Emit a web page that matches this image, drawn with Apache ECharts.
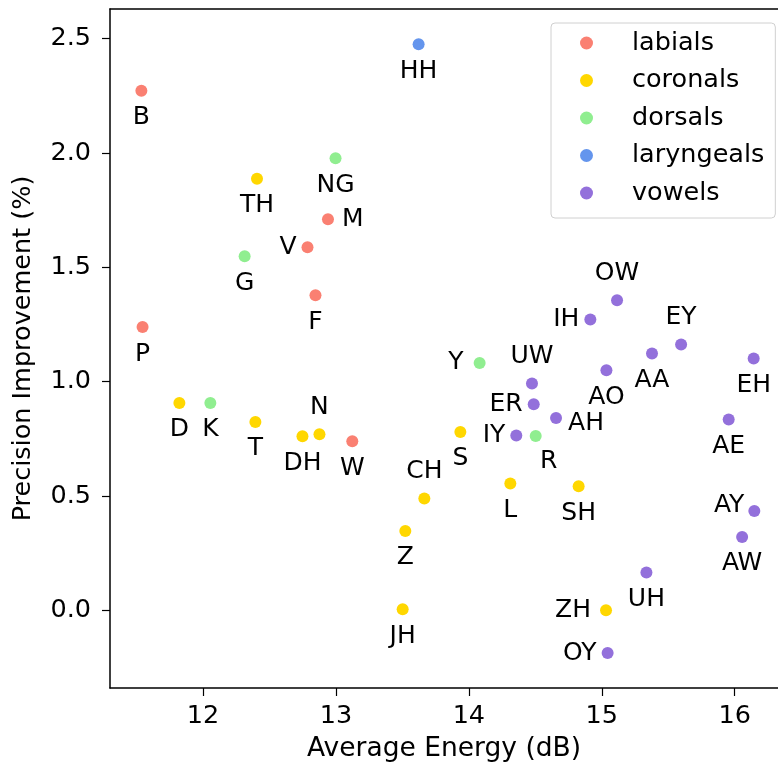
<!DOCTYPE html>
<html>
<head>
<meta charset="utf-8">
<style>html,body{margin:0;padding:0;background:#fff;}#main{width:778px;height:765px;}</style>
<script src="https://cdn.jsdelivr.net/npm/echarts@6/dist/echarts.min.js"></script>
</head>
<body>
<div id="main"></div>
<script>
// ---- data ----
const groups = ['labials', 'coronals', 'dorsals', 'laryngeals', 'vowels'];
const colors = ['#FA8072', '#FFD700', '#90EE90', '#6495ED', '#9370DB'];

const labialNames = ['B', 'P', 'M', 'V', 'F', 'W'];
const labialX = [11.536, 11.545, 12.94, 12.786, 12.846, 13.123];
const labialY = [2.272, 1.239, 1.710, 1.588, 1.378, 0.739];

const coronalNames = ['TH', 'D', 'T', 'N', 'DH', 'S', 'CH', 'L', 'SH', 'Z', 'JH', 'ZH'];
const coronalX = [12.406, 11.822, 12.394, 12.876, 12.748, 13.936, 13.665, 14.312, 14.826, 13.522, 13.502, 15.032];
const coronalY = [1.888, 0.907, 0.824, 0.770, 0.761, 0.780, 0.489, 0.554, 0.542, 0.347, 0.004, 0.000];

const dorsalNames = ['G', 'K', 'NG', 'Y', 'R'];
const dorsalX = [12.313, 12.055, 12.997, 14.081, 14.503];
const dorsalY = [1.549, 0.907, 1.977, 1.082, 0.762];

const laryngealNames = ['HH'];
const laryngealX = [13.622];
const laryngealY = [2.476];

const vowelNames = ['OW', 'IH', 'EY', 'AA', 'EH', 'AO', 'UW', 'ER', 'AH', 'AE', 'IY', 'AY', 'AW', 'UH', 'OY'];
const vowelX = [15.115, 14.914, 15.597, 15.378, 16.143, 15.035, 14.475, 14.488, 14.656, 15.955, 14.357, 16.148, 16.056, 15.336, 15.044];
const vowelY = [1.356, 1.272, 1.162, 1.123, 1.101, 1.050, 0.992, 0.901, 0.841, 0.834, 0.764, 0.434, 0.321, 0.165, -0.187];

const xTicks = [12, 13, 14, 15, 16];
const yTicks = [0.0, 0.5, 1.0, 1.5, 2.0, 2.5];

// ---- label placement (style) ----
const FONT = 'DejaVu Sans';
const labelPlace = {
  top: ['N', 'OW', 'EY', 'UW', 'CH'],
  left: ['V', 'IH', 'Y', 'ER', 'IY', 'ZH', 'OY', 'AY'],
  right: ['M', 'AH']
};
const special = {
  R: { align: 'center', offset: [13, 25] },
  AH: { align: 'left', offset: [12, 5] },
  AY: { align: 'right', offset: [-10, -6] },
  Y: { align: 'right', offset: [-16, 0] },
  ZH: { align: 'right', offset: [-15, 0] },
  M: { align: 'left', offset: [14, 0] }
};
function labelFor(name) {
  let cfg;
  if (special[name]) cfg = special[name];
  else if (labelPlace.top.includes(name)) cfg = { align: 'center', offset: [0, -27] };
  else if (labelPlace.left.includes(name)) cfg = { align: 'right', offset: [-11, 0] };
  else if (labelPlace.right.includes(name)) cfg = { align: 'left', offset: [13, 0] };
  else cfg = { align: 'center', offset: [0, 27] };
  return {
    show: true,
    position: 'inside',
    formatter: name,
    align: cfg.align,
    verticalAlign: 'middle',
    offset: cfg.offset,
    color: '#000',
    fontFamily: FONT,
    fontSize: 25
  };
}

const seriesData = [
  [labialNames, labialX, labialY],
  [coronalNames, coronalX, coronalY],
  [dorsalNames, dorsalX, dorsalY],
  [laryngealNames, laryngealX, laryngealY],
  [vowelNames, vowelX, vowelY]
];

const series = groups.map((g, i) => {
  const [names, xs, ys] = seriesData[i];
  return {
    name: g,
    type: 'scatter',
    xAxisIndex: 0,
    yAxisIndex: 0,
    symbol: 'circle',
    symbolSize: 12,
    itemStyle: { color: colors[i], opacity: 1 },
    emphasis: { disabled: true },
    data: names.map((n, k) => ({ name: n, value: [xs[k], ys[k]], label: labelFor(n) }))
  };
});

const chart = echarts.init(document.getElementById('main'), null, { renderer: 'canvas' });
chart.setOption({
  animation: false,
  backgroundColor: '#fff',
  grid: { left: 110, top: 9, right: 0, bottom: 77, show: false, containLabel: false, outerBoundsMode: 'none' },
  legend: {
    orient: 'vertical',
    left: 551, top: 23,
    padding: [7, 11, 12, 29],
    itemWidth: 13, itemHeight: 13,
    itemGap: 11.5,
    icon: 'circle',
    backgroundColor: '#fff',
    borderColor: '#d0d0d0',
    borderWidth: 1,
    borderRadius: 4,
    textStyle: { fontFamily: FONT, fontSize: 25.5, color: '#000', lineHeight: 26, padding: [0, 0, 0, 34] },
    data: groups
  },
  xAxis: [{
    type: 'value',
    position: 'bottom',
    min: 11.3, max: 16.326,
    name: 'Average Energy (dB)',
    nameLocation: 'middle',
    nameGap: 48,
    nameTextStyle: { fontFamily: FONT, fontSize: 26.5, color: '#000' },
    axisLine: { show: true, onZero: false, lineStyle: { color: '#000', width: 1.5 } },
    axisTick: { show: true, length: 8, inside: false, lineStyle: { color: '#000', width: 1.2 }, customValues: xTicks },
    axisLabel: { fontFamily: FONT, fontSize: 25.5, color: '#000', margin: 15, customValues: xTicks, formatter: v => String(v) },
    splitLine: { show: false }
  }, {
    type: 'value',
    position: 'top',
    min: 11.3, max: 16.326,
    axisLine: { show: true, onZero: false, lineStyle: { color: '#000', width: 1.5 } },
    axisTick: { show: false },
    axisLabel: { show: false },
    splitLine: { show: false }
  }],
  yAxis: {
    type: 'value',
    min: -0.34, max: 2.63,
    name: 'Precision Improvement (%)',
    nameLocation: 'middle',
    nameGap: 74,
    nameRotate: 90,
    nameTextStyle: { fontFamily: FONT, fontSize: 25.5, color: '#000' },
    axisLine: { show: true, onZero: false, lineStyle: { color: '#000', width: 1.5 } },
    axisTick: { show: true, length: 8, inside: false, lineStyle: { color: '#000', width: 1.2 }, customValues: yTicks },
    axisLabel: { fontFamily: FONT, fontSize: 25.5, color: '#000', margin: 19, customValues: yTicks, formatter: v => v.toFixed(1) },
    splitLine: { show: false }
  },
  series: series
});
</script>
</body>
</html>
